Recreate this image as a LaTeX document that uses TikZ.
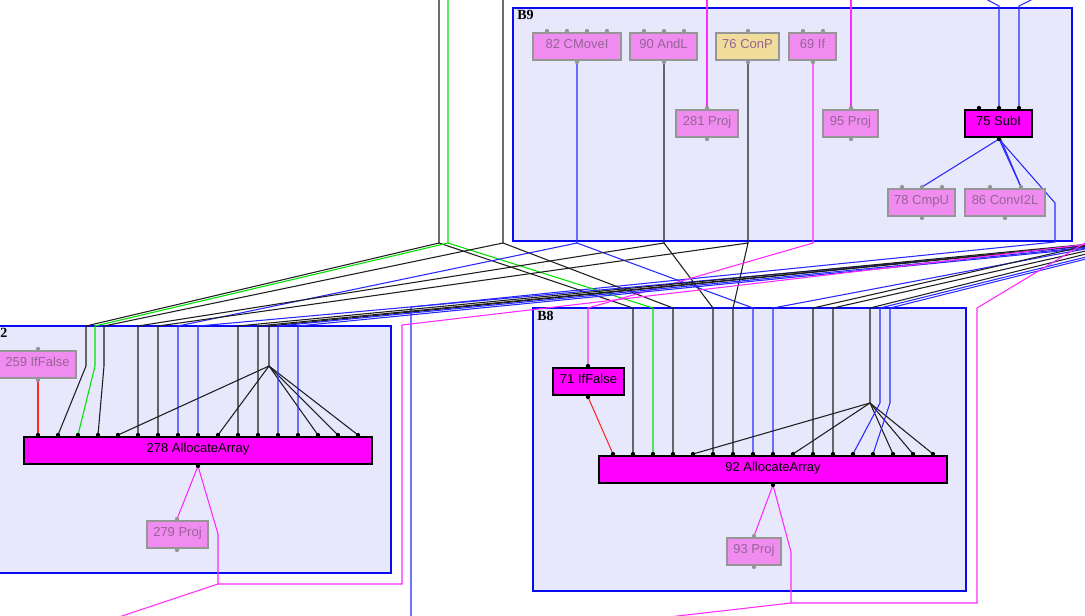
\documentclass[tikz,border=0pt]{standalone}
\usepackage{fontspec}
\setmainfont{Liberation Sans}
\newfontfamily\clfont{Liberation Serif}
\definecolor{clfill}{RGB}{232,232,252}
\definecolor{clblue}{RGB}{10,10,240}
\definecolor{gfill}{RGB}{240,140,240}
\definecolor{gtext}{RGB}{150,100,150}
\definecolor{gborder}{RGB}{150,150,150}
\definecolor{tanfill}{RGB}{240,220,155}
\definecolor{eblue}{RGB}{40,40,255}
\definecolor{egreen}{RGB}{0,225,0}
\definecolor{emag}{RGB}{255,40,255}
\definecolor{ered}{RGB}{255,40,40}
\definecolor{eblack}{RGB}{30,30,30}
\definecolor{mfill}{RGB}{255,0,255}
\tikzset{
  cluster/.style={draw=clblue, fill=clfill, line width=1.2pt},
  cllabel/.style={anchor=north west, inner sep=0pt, font=\clfont\bfseries\fontsize{10.5}{12}\selectfont},
  gbox/.style={draw=gborder, fill=gfill, text=gtext, line width=0.9pt, inner sep=0pt,
    minimum height=27*0.75pt, text height=7pt, text depth=4.5pt, font=\fontsize{9.75}{11}\selectfont},
  tbox/.style={gbox, fill=tanfill},
  mbox/.style={gbox, draw=black, fill=mfill, text=black},
  eb/.style={draw=eblue, line width=0.8pt},
  ek/.style={draw=eblack, line width=0.8pt},
  eg/.style={draw=egreen, line width=0.8pt},
  em/.style={draw=emag, line width=0.8pt},
  er/.style={draw=ered, line width=0.8pt},
  gdot/.style={fill=gborder},
  kdot/.style={fill=black},
}
\begin{document}
\begin{tikzpicture}[x=0.75pt,y=-0.75pt]
\useasboundingbox (0,0) rectangle (1085,615);
\clip (0,0) rectangle (1085,615);
% ---------- clusters
\draw[cluster] (513,8) rectangle (1072,241);
\draw[cluster] (-10,326) rectangle (391,573);
\draw[cluster] (533,308) rectangle (966,591);
\node[cllabel] (lB9) at (517,10) {B9};
\node[cllabel] (lB8) at (537,311) {B8};
\node[cllabel] (lB12) at (0,328) {2};
% ---------- ports
\coordinate (n82i1) at (547,31); \coordinate (n82i2) at (567,31);
\coordinate (n82i3) at (587,31); \coordinate (n82i4) at (607,31);
\coordinate (n82o) at (577,62);
\coordinate (n90i1) at (644,31); \coordinate (n90i2) at (664,31); \coordinate (n90i3) at (684,31);
\coordinate (n90o) at (664,62);
\coordinate (n76i) at (748,31); \coordinate (n76o) at (748,62);
\coordinate (n69i1) at (803,31); \coordinate (n69i2) at (823,31); \coordinate (n69o) at (813,62);
\coordinate (n281i) at (707,108); \coordinate (n281o) at (707,139);
\coordinate (n95i) at (851,108); \coordinate (n95o) at (851,139);
\coordinate (n75i1) at (979,108); \coordinate (n75i2) at (999,108); \coordinate (n75i3) at (1019,108);
\coordinate (n75o) at (999,139);
\coordinate (n78i1) at (902,187); \coordinate (n78i2) at (922,187); \coordinate (n78i3) at (942,187);
\coordinate (n78o) at (922,218);
\coordinate (n86i1) at (990,187); \coordinate (n86i2) at (1021,187); \coordinate (n86o) at (1005,218);
\coordinate (n259i) at (38,349); \coordinate (n259o) at (38,380);
\foreach \k in {1,...,17} {\coordinate (n278i\k) at (18+20*\k,435);}
\coordinate (n278o) at (198,466);
\coordinate (n279i) at (177,519); \coordinate (n279o) at (177,550);
\coordinate (n71i) at (588,366); \coordinate (n71o) at (588,397);
\foreach \k in {1,...,17} {\coordinate (n92i\k) at (593+20*\k,454);}
\coordinate (n92o) at (773,485);
\coordinate (n93i) at (754,536); \coordinate (n93o) at (754,567);
% free ends
\coordinate (t987) at (984,-2); \coordinate (t1032) at (1035,-2);
\coordinate (t707) at (707,-2); \coordinate (t851) at (851,-2);
\coordinate (t439) at (439,-2); \coordinate (t448) at (448,-2); \coordinate (t503) at (503,-2);
\coordinate (b411) at (411,620);
\coordinate (b125) at (116,618); \coordinate (b681) at (660,618);
\coordinate (rb1) at (1090,246); \coordinate (rb2) at (1090,244); \coordinate (rb3) at (1090,245);
\coordinate (rb4) at (1090,245); \coordinate (rb5) at (1090,247); \coordinate (rb6) at (1090,248);
\coordinate (rbm) at (1090,244);
\coordinate (rc1) at (1090,248); \coordinate (rc2) at (1090,245); \coordinate (rc3) at (1090,250);
\coordinate (rc4) at (1090,253); \coordinate (rc5) at (1090,256); \coordinate (rc6) at (1090,258);
\coordinate (rcm) at (1090,240);
\coordinate (hubL) at (269,366); \coordinate (hubR) at (870,403);
% ---------- edges in / out of B9
\draw[eb] (t987) -- (999,6) -- (n75i2);
\draw[eb] (t1032) -- (1019,6) -- (n75i3);
\draw[em] (t707) -- (n281i);
\draw[em] (t851) -- (n95i);
\draw[eb] (n75o) -- (n78i2);
\draw[eb] (n75o) -- (n86i2);
\draw[eb] ([xshift=1.2pt]n75o) -- (n86i2);
\draw[eb] (n75o) -- (1055,203) -- (1055,242) -- (411,307) -- (b411);
% verticals from above
\draw[ek] (t439) -- (439,243) -- (86,326) -- (86,366) -- (n278i2);
\draw[ek] (439,243) -- (633,308) -- (n92i2);
\draw[eg] (t448) -- (448,243) -- (95,326) -- (95,366) -- (n278i3);
\draw[eg] (448,243) -- (653,308) -- (n92i3);
\draw[ek] (t503) -- (503,243) -- (104,326) -- (104,366) -- (n278i4);
\draw[ek] (503,243) -- (673,308) -- (n92i4);
% from B9 nodes
\draw[eb] (n82o) -- (577,243) -- (178,326) -- (n278i8);
\draw[eb] (577,243) -- (753,308) -- (n92i8);
\draw[ek] (n90o) -- (664,243) -- (138,326) -- (n278i6);
\draw[ek] (664,243) -- (713,308) -- (n92i6);
\draw[ek] (n76o) -- (748,243) -- (158,326) -- (n278i7);
\draw[ek] (748,243) -- (733,308) -- (n92i7);
\draw[em] (n69o) -- (813,243) -- (588,308) -- (n71i);
% bundle from right edge to left cluster
\draw[eb] (rb1) -- (198,326) -- (n278i9);
\draw[ek] (rb2) -- (238,326) -- (n278i11);
\draw[ek] (rb3) -- (258,326) -- (n278i12);
\draw[ek] (rb4) -- (269,326) -- (hubL);
\foreach \k in {5,10,15,16,17} {\draw[ek] (hubL) -- (n278i\k);}
\draw[eb] (rb5) -- (278,326) -- (n278i13);
\draw[eb] (rb6) -- (298,326) -- (n278i14);
\draw[er] (n259o) -- (n278i1);
\draw[em] (n278o) -- (n279i);
\draw[em] (n278o) -- (218,534) -- (218,584) -- (402,584) -- (402,325) -- (rbm);
\draw[em] (218,584) -- (b125);
% bundle from right edge to B8
\draw[eb] (rc1) -- (773,308) -- (n92i9);
\draw[ek] (rc2) -- (813,308) -- (n92i11);
\draw[ek] (rc3) -- (833,308) -- (n92i12);
\draw[ek] (rc4) -- (870,308) -- (hubR);
\foreach \k in {5,10,15,16,17} {\draw[ek] (hubR) -- (n92i\k);}
\draw[eb] (rc5) -- (880,308) -- (880,403) -- (n92i13);
\draw[eb] (rc6) -- (890,308) -- (890,403) -- (n92i14);
\draw[er] (n71o) -- (n92i1);
\draw[em] (n92o) -- (n93i);
\draw[em] (n92o) -- (791,552) -- (791,603) -- (977,603) -- (977,308) -- (rcm);
\draw[em] (791,603) -- (b681);
% ---------- nodes
\node[gbox, minimum width=88*0.75pt] (n82) at (577,46.5) {82 CMoveI};
\node[gbox, minimum width=67*0.75pt] (n90) at (663.5,46.5) {90 AndL};
\node[tbox, minimum width=63*0.75pt] (n76) at (747.5,46.5) {76 ConP};
\node[gbox, minimum width=47*0.75pt] (n69) at (812.5,46.5) {69 If};
\node[gbox, minimum width=62*0.75pt] (n281) at (707,123.5) {281 Proj};
\node[gbox, minimum width=55*0.75pt] (n95) at (850.5,123.5) {95 Proj};
\node[mbox, minimum width=67*0.75pt] (n75) at (998.5,123.5) {75 SubI};
\node[gbox, minimum width=67*0.75pt] (n78) at (921.5,202.5) {78 CmpU};
\node[gbox, minimum width=80*0.75pt] (n86) at (1005,202.5) {86 ConvI2L};
\node[gbox, minimum width=77*0.75pt] (n259) at (37.5,364.5) {259 IfFalse};
\node[mbox, minimum width=348*0.75pt] (n278) at (198,450.5) {278 AllocateArray};
\node[gbox, minimum width=61*0.75pt] (n279) at (177.5,534.5) {279 Proj};
\node[mbox, minimum width=71*0.75pt] (n71) at (588.5,381.5) {71 IfFalse};
\node[mbox, minimum width=348*0.75pt] (n92) at (773,469.5) {92 AllocateArray};
\node[gbox, minimum width=54*0.75pt] (n93) at (754,551.5) {93 Proj};
% ---------- dots
\foreach \p in {n82i1,n82i2,n82i3,n82i4,n82o,n90i1,n90i2,n90i3,n90o,n76i,n76o,n69i1,n69i2,n69o,
  n281i,n281o,n95i,n95o,n78i1,n78i2,n78i3,n78o,n86i1,n86i2,n86o,n259i,n259o,n279i,n279o,n93i,n93o}
  {\fill[gdot] (\p) circle (1.6pt);}
\foreach \p in {n75i1,n75i2,n75i3,n75o,n278o,n71i,n71o,n92o}
  {\fill[kdot] (\p) circle (1.6pt);}
\foreach \k in {1,...,17} {\fill[kdot] (n278i\k) circle (1.6pt); \fill[kdot] (n92i\k) circle (1.6pt);}
\end{tikzpicture}
\end{document}
